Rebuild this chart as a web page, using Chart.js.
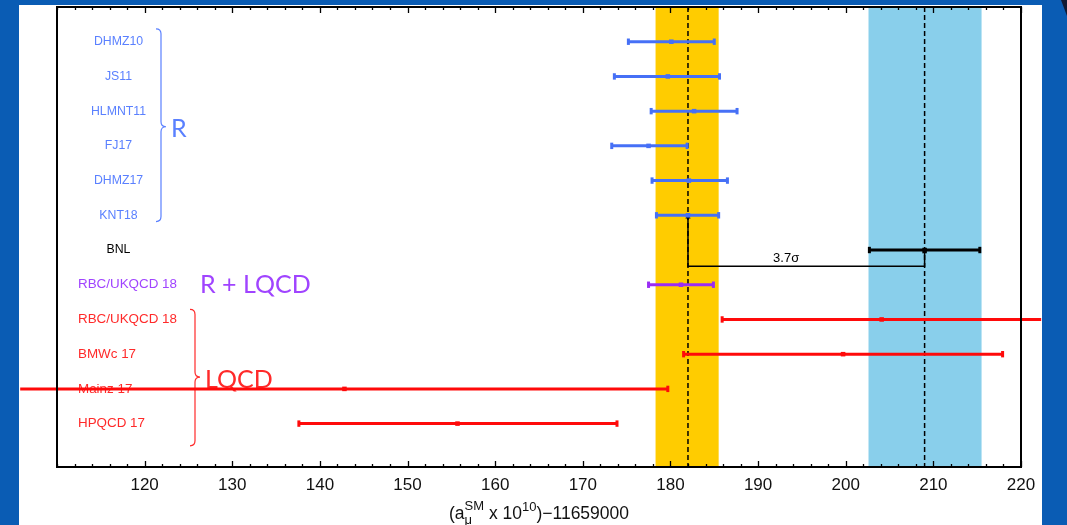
<!DOCTYPE html>
<html>
<head>
<meta charset="utf-8">
<title>a_mu SM comparison</title>
<script src="https://cdn.jsdelivr.net/npm/chart.js@4.4.0/dist/chart.umd.min.js"></script>
<style>
  html, body { margin: 0; padding: 0; }
  body { width: 1067px; height: 525px; background: #0a5cb4; position: relative; overflow: hidden; }
  #sheet { position: absolute; left: 19px; top: 5px; width: 1023px; height: 520px; background: #fff; }
  #corner { position: absolute; right: 0; top: 0; width: 0; height: 0; border-top: 16px solid #101a35; border-left: 6px solid transparent; }
  canvas { position: absolute; left: 0; top: 0; }
</style>
</head>
<body>
<div id="sheet"></div>
<div id="corner"></div>
<canvas id="chart" width="1067" height="525"></canvas>
<script>
// rows, top to bottom
const rowLabels = ['DHMZ10', 'JS11', 'HLMNT11', 'FJ17', 'DHMZ17', 'KNT18', 'BNL',
                   'RBC/UKQCD 18', 'RBC/UKQCD 18', 'BMWc 17', 'Mainz 17', 'HPQCD 17'];
const rowGroups = ['R', 'R', 'R', 'R', 'R', 'R', 'exp', 'R+LQCD', 'LQCD', 'LQCD', 'LQCD', 'LQCD'];
const centralValues = [180.1, 179.7, 182.7, 177.5, 182.1, 182.0, 209.0, 181.2, 204.1, 199.7, 142.8, 155.7];
const lowerEnds     = [175.2, 173.6, 177.8, 173.3, 177.9, 178.4, 202.7, 177.5, 185.9, 181.5, 105.8, 137.6];
const upperEnds     = [185.0, 185.6, 187.6, 181.9, 186.5, 185.5, 215.3, 184.9, 222.3, 217.9, 179.7, 173.9];

const xTickValues = [120, 130, 140, 150, 160, 170, 180, 190, 200, 210, 220];
const bandKNT = [178.3, 185.5];   // yellow band
const bandBNL = [202.6, 215.5];   // light blue band
const refLines = [182.0, 209.0];  // dashed lines
const sigmaText = '3.7σ';

const X_MIN = 110, X_MAX = 220, Y_MAX = 13.25;

const lineColors = { 'R': '#4670f6', 'exp': '#000000', 'R+LQCD': '#9a2cf5', 'LQCD': '#ff0a0a' };
const textColors = { 'R': '#5a80ff', 'exp': '#000000', 'R+LQCD': '#a044ff', 'LQCD': '#ff2a2a' };
const SANS = '"Liberation Sans", Arial, Helvetica, sans-serif';

const rows = rowLabels.map((_, i) => i + 1);
const bracketY = 7.47;

// curly brace pointing right
function drawBrace(ctx, x, top, bottom, tip, w) {
    ctx.beginPath();
    ctx.moveTo(x - w, top);
    ctx.quadraticCurveTo(x, top, x, top + w);
    ctx.lineTo(x, tip - w);
    ctx.quadraticCurveTo(x, tip, x + w, tip);
    ctx.quadraticCurveTo(x, tip, x, tip + w);
    ctx.lineTo(x, bottom - w);
    ctx.quadraticCurveTo(x, bottom, x - w, bottom);
    ctx.stroke();
}

const backdrop = {
    id: 'backdrop',
    beforeDatasetsDraw(chart) {
        const { ctx, chartArea: a, scales: { x, y } } = chart;
        ctx.save();
        // bands
        ctx.fillStyle = '#ffcc00';
        ctx.fillRect(x.getPixelForValue(bandKNT[0]), a.top, x.getPixelForValue(bandKNT[1]) - x.getPixelForValue(bandKNT[0]), a.bottom - a.top);
        ctx.fillStyle = '#89cfeb';
        ctx.fillRect(x.getPixelForValue(bandBNL[0]), a.top, x.getPixelForValue(bandBNL[1]) - x.getPixelForValue(bandBNL[0]), a.bottom - a.top);

        // row labels
        ctx.textBaseline = 'middle';
        rowLabels.forEach((lab, i) => {
            const g = rowGroups[i];
            ctx.fillStyle = textColors[g];
            if (g === 'R' || g === 'exp') {
                ctx.font = '12.3px ' + SANS;
                ctx.textAlign = 'center';
                ctx.fillText(lab, 118.5, y.getPixelForValue(rows[i]));
            } else {
                ctx.font = '13.4px ' + SANS;
                ctx.textAlign = 'left';
                ctx.fillText(lab, 78, y.getPixelForValue(rows[i]));
            }
        });

        // group braces and names
        ctx.lineWidth = 1.2;
        ctx.strokeStyle = textColors['R'];
        drawBrace(ctx, 161, y.getPixelForValue(0.63), y.getPixelForValue(6.18), y.getPixelForValue(3.45), 5);
        ctx.strokeStyle = textColors['LQCD'];
        drawBrace(ctx, 195, y.getPixelForValue(8.71), y.getPixelForValue(12.64), y.getPixelForValue(10.66), 5);

        ctx.font = '25px Lato, "Open Sans", sans-serif';
        ctx.textAlign = 'left';
        ctx.fillStyle = textColors['R'];
        ctx.fillText('R', 171, y.getPixelForValue(3.5));
        ctx.fillStyle = textColors['R+LQCD'];
        ctx.fillText('R + LQCD', 200, y.getPixelForValue(8));
        ctx.fillStyle = textColors['LQCD'];
        ctx.fillText('LQCD', 205, y.getPixelForValue(10.75));
        ctx.restore();
    },
    afterDatasetsDraw(chart) {
        const { ctx, chartArea: a, scales: { x, y } } = chart;
        ctx.save();
        // frame
        ctx.strokeStyle = '#000';
        ctx.lineWidth = 2;
        ctx.strokeRect(a.left, a.top, a.right - a.left, a.bottom - a.top);
        // inward ticks, minor every 2
        ctx.lineWidth = 1.3;
        ctx.beginPath();
        for (let v = X_MIN; v <= X_MAX; v += 2) {
            const px = Math.round(x.getPixelForValue(v)) + 0.5;
            const len = xTickValues.includes(v) ? 6 : 3;
            ctx.moveTo(px, a.bottom); ctx.lineTo(px, a.bottom - len);
            ctx.moveTo(px, a.top); ctx.lineTo(px, a.top + len);
        }
        ctx.stroke();

        // sigma label
        ctx.fillStyle = '#000';
        ctx.font = '13px ' + SANS;
        ctx.textAlign = 'center';
        ctx.textBaseline = 'middle';
        ctx.fillText(sigmaText, x.getPixelForValue(193.2), y.getPixelForValue(bracketY) - 8);

        // axis title with sub/superscripts
        const big = '17.5px ' + SANS, small = '13px ' + SANS;
        const parts = [
            { t: '(a', f: big, dy: 0 },
            { t: 'μ', f: small, dy: 5, stackWith: 'SM' },
            { t: ' x 10', f: big, dy: 0 },
            { t: '10', f: small, dy: -8 },
            { t: ')\u221211659000', f: big, dy: 0 }
        ];
        let total = 0;
        parts.forEach(p => {
            ctx.font = p.f;
            p.w = ctx.measureText(p.t).width;
            if (p.stackWith) p.w = Math.max(p.w, ctx.measureText(p.stackWith).width);
            total += p.w;
        });
        let cx = 539 - total / 2;
        const base = 519;
        ctx.textAlign = 'left';
        ctx.textBaseline = 'alphabetic';
        ctx.fillStyle = '#111';
        parts.forEach(p => {
            ctx.font = p.f;
            ctx.fillText(p.t, cx, base + p.dy);
            if (p.stackWith) ctx.fillText(p.stackWith, cx, base - 9);
            cx += p.w;
        });
        ctx.restore();
    }
};

const datasets = [];
refLines.forEach(v => datasets.push({
    type: 'line',
    data: [{ x: v, y: 0 }, { x: v, y: Y_MAX }],
    borderColor: '#000', borderWidth: 1.5, borderDash: [5, 3],
    pointRadius: 0, order: 10
}));
// 3.7 sigma bracket from KNT18 to BNL
datasets.push({
    type: 'line',
    data: [
        { x: centralValues[5], y: rows[5] + 0.05 },
        { x: centralValues[5], y: bracketY },
        { x: centralValues[6], y: bracketY },
        { x: centralValues[6], y: rows[6] + 0.05 }
    ],
    borderColor: '#000', borderWidth: 1.5,
    pointStyle: 'triangle', pointRadius: [3, 0, 0, 3],
    pointBackgroundColor: '#000', pointBorderWidth: 0,
    order: 5, clip: false
});
rowLabels.forEach((lab, i) => {
    const col = lineColors[rowGroups[i]];
    datasets.push({
        type: 'line',
        label: lab,
        data: [{ x: lowerEnds[i], y: rows[i] }, { x: upperEnds[i], y: rows[i] }],
        borderColor: col, borderWidth: 3,
        pointStyle: 'line', rotation: 90, pointRadius: 3.2,
        pointBorderWidth: 3, pointBorderColor: col, pointBackgroundColor: col,
        clip: false, order: 2
    });
});
datasets.push({
    type: 'scatter',
    data: rows.map((r, i) => ({ x: centralValues[i], y: r })),
    pointStyle: 'rect', pointRadius: 3.2, borderWidth: 0,
    backgroundColor: rowGroups.map(g => lineColors[g]),
    clip: false, order: 1
});

new Chart(document.getElementById('chart'), {
    type: 'scatter',
    data: { datasets },
    options: {
        responsive: false,
        animation: false,
        devicePixelRatio: 1,
        layout: { padding: { left: 57, right: 46, top: 6, bottom: 0 } },
        plugins: { legend: { display: false }, tooltip: { enabled: false } },
        scales: {
            x: {
                type: 'linear', min: X_MIN, max: X_MAX, position: 'bottom',
                grid: { display: false, drawTicks: false },
                border: { display: false },
                afterBuildTicks: s => { s.ticks = xTickValues.map(v => ({ value: v })); },
                afterFit: s => { s.height = 58; },
                ticks: { font: { family: SANS, size: 17 }, color: '#111', padding: 8, maxRotation: 0 }
            },
            y: { type: 'linear', min: 0, max: Y_MAX, reverse: true, display: false }
        }
    },
    plugins: [backdrop]
});
</script>
</body>
</html>
